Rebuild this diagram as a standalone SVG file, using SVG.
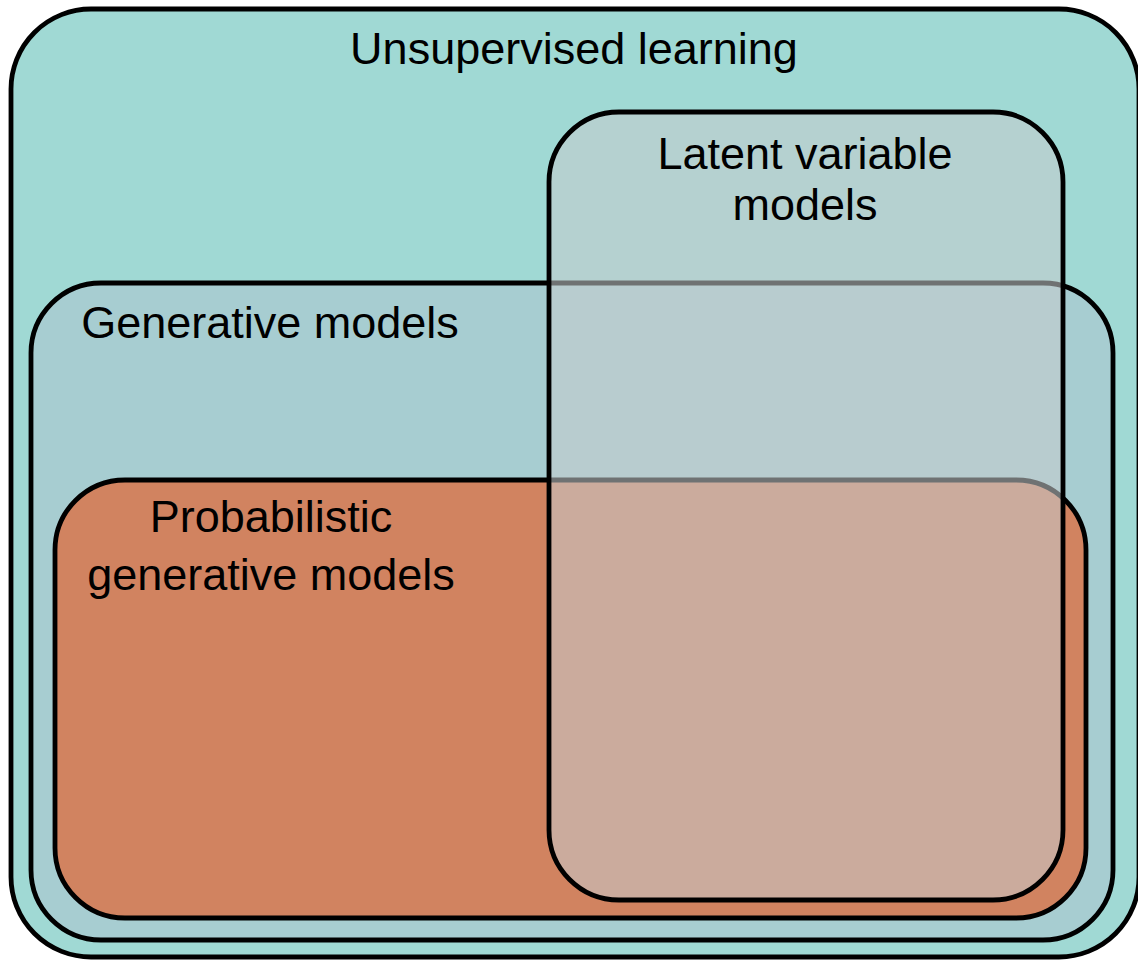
<svg xmlns="http://www.w3.org/2000/svg" width="1138" height="961" viewBox="0 0 1138 961">
<style>
.box{stroke:#000;stroke-width:4.8}
.lbl{font-family:"Liberation Sans",Arial,sans-serif;font-size:45px;fill:#000;text-anchor:middle}
</style>
<rect width="1138" height="961" fill="#fff"/>
<g id="unsupervised">
<rect class="box" x="11" y="9" width="1128" height="948" rx="80" fill="#a0d9d4"/>
<text class="lbl" x="574" y="64">Unsupervised learning</text>
</g>
<g id="generative">
<rect class="box" x="31" y="283" width="1082" height="657" rx="70" fill="#a7cdd1"/>
<text class="lbl" x="270" y="338">Generative models</text>
</g>
<g id="probabilistic">
<rect class="box" x="55" y="480" width="1031" height="438" rx="70" fill="#d18360"/>
<text class="lbl" x="271" y="532">Probabilistic</text>
<text class="lbl" x="271" y="590">generative models</text>
</g>
<g id="latent">
<rect x="549" y="112" width="514" height="788" rx="70" fill="rgb(198,203,205)" fill-opacity="0.56"/>
<rect class="box" x="549" y="112" width="514" height="788" rx="70" fill="none"/>
<text class="lbl" x="805" y="169">Latent variable</text>
<text class="lbl" x="805" y="220">models</text>
</g>
<g id="connectors"/>
</svg>
